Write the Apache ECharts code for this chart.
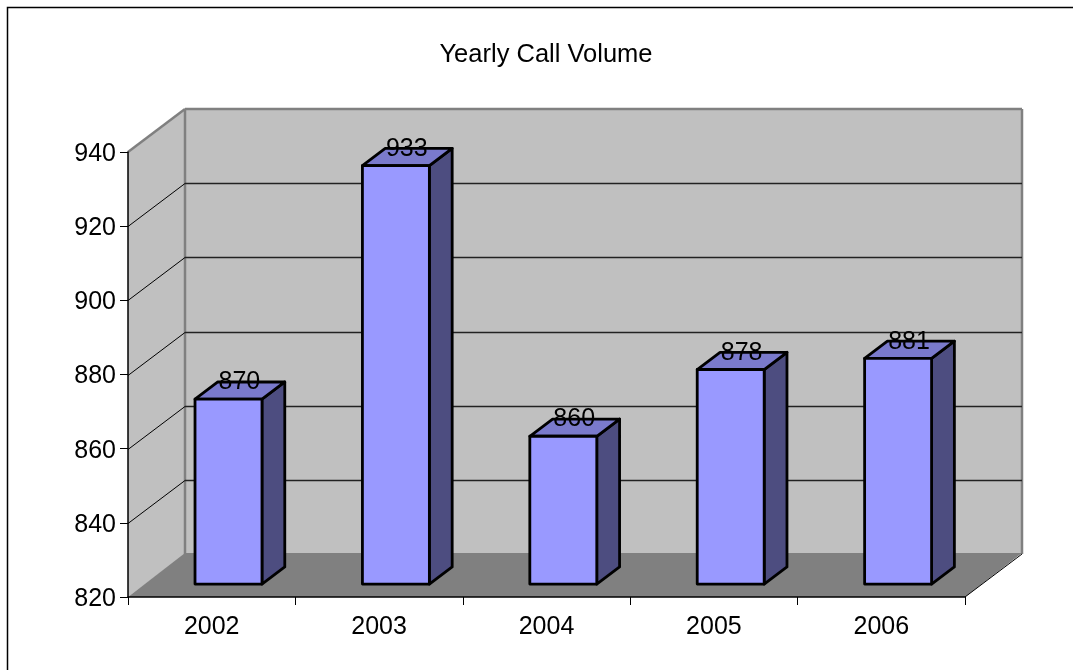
<!DOCTYPE html>
<html><head><meta charset="utf-8">
<style>html,body{margin:0;padding:0;background:#fff}#c{width:1073px;height:670px}</style>
<script src="https://cdn.jsdelivr.net/npm/echarts@6/dist/echarts.min.js"></script>
</head><body><div id="c"></div>
<script>
const categories = ['2002','2003','2004','2005','2006'];
const callVolume = [870,933,860,878,881];
const tickValues = [820,840,860,880,900,920,940];
const chartTitle = 'Yearly Call Volume';

const FONT = '"Liberation Sans", Arial, sans-serif';
const DX = 57, DY = -43;          // 3D depth of the plot box
const BAR_NEAR = 0.3, BAR_FAR = 0.7, BAR_W = 0.4;

function poly(points, style, z2){
  return {type:'polygon', shape:{points}, style, z2: z2||0};
}
function seg(a,b,stroke,lineWidth,z2){
  return {type:'line', shape:{x1:a[0],y1:a[1],x2:b[0],y2:b[1]}, style:{stroke,lineWidth,fill:null}, z2:z2||0};
}

const chart = echarts.init(document.getElementById('c'), null, {renderer:'canvas'});
chart.setOption({
  animation:false,
  backgroundColor:'#fff',
  title:{text:chartTitle,left:541,top:37,textAlign:'center',
    textStyle:{fontFamily:FONT,fontSize:25.5,fontWeight:'normal',color:'#000'}},
  graphic:[{type:'polyline',silent:true,shape:{points:[[7.5,670],[7.5,7.5],[1073,7.5]]},
    style:{stroke:'#000',lineWidth:1.5,fill:null}}],
  grid:{left:128,right:108,top:152,bottom:73,containLabel:false},
  xAxis:{type:'category',data:categories,boundaryGap:true,z:5,
    axisLine:{lineStyle:{color:'#000',width:1.5}},
    axisTick:{show:true,alignWithLabel:false,length:8,lineStyle:{color:'#000',width:1}},
    axisLabel:{fontFamily:FONT,fontSize:25,color:'#000',margin:17.5}},
  yAxis:{type:'value',min:820,max:940,interval:20,z:5,
    axisLine:{show:true,lineStyle:{color:'#000',width:1.5}},
    axisTick:{show:true,length:8,lineStyle:{color:'#000',width:1}},
    splitLine:{show:false},
    axisLabel:{fontFamily:FONT,fontSize:25,color:'#000',margin:12,verticalAlign:'top',lineHeight:4}},
  series:[
    {type:'custom',silent:true,z:1,coordinateSystem:'cartesian2d',data:[[0,820]],
      renderItem(params,api){
        const cs=params.coordSys, l=cs.x, r=cs.x+cs.width, t=cs.y, b=cs.y+cs.height;
        const wall={fill:'#C0C0C0'}, gray='#808080';
        return {type:'group',children:[
          poly([[l,t],[l+DX,t+DY],[l+DX,b+DY],[l,b]],wall),
          poly([[l+DX,t+DY],[r+DX,t+DY],[r+DX,b+DY],[l+DX,b+DY]],wall),
          poly([[l,b],[l+DX,b+DY-1],[r+DX,b+DY-1],[r,b]],{fill:gray},1),
          seg([l,t],[l+DX,t+DY],gray,2.5,2),
          seg([l+DX,t+DY],[r+DX,t+DY],gray,2.5,2),
          seg([r+DX,t+DY],[r+DX,b+DY],gray,2.5,2),
          seg([l+DX,t+DY],[l+DX,b+DY],gray,2.5,0.5),
          seg([r,b],[r+DX,b+DY],'#000',1,3)
        ]};
      }},
    {type:'custom',silent:true,z:2,coordinateSystem:'cartesian2d',
      data:tickValues.slice(1,-1).map(v=>[0,v]),
      renderItem(params,api){
        const cs=params.coordSys, y=Math.round(api.coord([0,api.value(1)])[1])+0.5;
        const l=cs.x, r=cs.x+cs.width;
        return {type:'group',children:[
          seg([l,y],[l+DX,y+DY],'#000',1),
          seg([l+DX,y+DY],[r+DX,y+DY],'#222',1.3)
        ]};
      }},
    {type:'custom',silent:true,z:6,coordinateSystem:'cartesian2d',
      encode:{x:0,y:1},
      data:categories.map((c,i)=>[i,callVolume[i]]),
      renderItem(params,api){
        const idx=api.value(0), val=api.value(1);
        const top=api.coord([idx,val]), base=api.coord([idx,820]);
        const band=api.size([1,0])[0], w=band*BAR_W;
        const nx=DX*BAR_NEAR, ny=DY*BAR_NEAR, fx=DX*(BAR_FAR-BAR_NEAR), fy=DY*(BAR_FAR-BAR_NEAR);
        const x0=top[0]-w/2+nx-0.3, x1=x0+w, yT=top[1]+ny+0.5, yB=base[1]+ny;
        const line={stroke:'#000',lineWidth:2.8,lineJoin:'round'};
        return {type:'group',children:[
          poly([[x1,yT],[x1+fx,yT+fy],[x1+fx,yB+fy],[x1,yB]],Object.assign({fill:'#4D4D80'},line)),
          poly([[x0,yT],[x0+fx,yT+fy],[x1+fx,yT+fy],[x1,yT]],Object.assign({fill:'#7A7ACC'},line)),
          poly([[x0,yT],[x1,yT],[x1,yB],[x0,yB]],Object.assign({fill:'#9999FF'},line)),
          {type:'text',z2:10,style:{text:String(val),x:x0+w/2+fx/2-0.5,y:yT+fy+0.5,align:'center',verticalAlign:'middle',
            fontFamily:FONT,fontSize:25,fill:'#000'}}
        ]};
      }}
  ]
});
</script></body></html>
